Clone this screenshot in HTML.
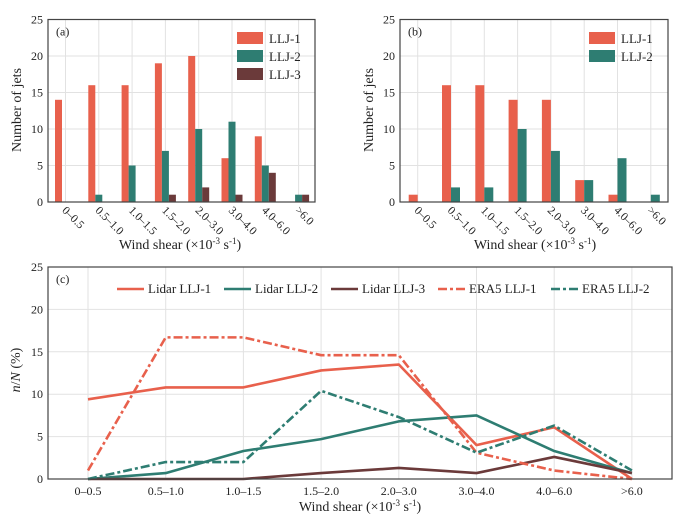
<!DOCTYPE html>
<html><head><meta charset="utf-8">
<style>
html,body{margin:0;padding:0;background:#fff;}
svg{display:block;font-family:"Liberation Serif",serif;}
</style></head>
<body>
<svg id="fig" width="687" height="523" viewBox="0 0 687 523" xmlns="http://www.w3.org/2000/svg"></svg>
<script>
const categories = ["0\u20130.5","0.5\u20131.0","1.0\u20131.5","1.5\u20132.0","2.0\u20133.0","3.0\u20134.0","4.0\u20136.0",">6.0"];
const yTicks = [0,5,10,15,20,25];
// panel a
const aLLJ1 = [14,16,16,19,20,6,9,0];
const aLLJ2 = [0,1,5,7,10,11,5,1];
const aLLJ3 = [0,0,0,1,2,1,4,1];
// panel b
const bLLJ1 = [1,16,16,14,14,3,1,0];
const bLLJ2 = [0,2,2,10,7,3,6,1];
// panel c
const cLidar1 = [9.4,10.8,10.8,12.8,13.5,4.0,6.1,0];
const cLidar2 = [0,0.7,3.3,4.7,6.8,7.5,3.3,0.7];
const cLidar3 = [0,0,0,0.7,1.3,0.7,2.6,0.7];
const cEra1 = [1.0,16.7,16.7,14.6,14.6,3.1,1.0,0];
const cEra2 = [0,2.0,2.0,10.4,7.3,3.1,6.3,1.0];

const RED="#e8604c", TEAL="#2e7d72", BROWN="#6b3a3a";
const NS="http://www.w3.org/2000/svg";
const svg=document.getElementById('fig');
function el(tag,attrs,parent,text){const e=document.createElementNS(NS,tag);for(const k in attrs)e.setAttribute(k,attrs[k]);if(text!==undefined)e.textContent=text;(parent||svg).appendChild(e);return e;}

function panel(name,x0,x1,yTop,yBot,cx,label){
  const g=el('g',{});
  
  
  const y=v=>yBot-(v/25)*(yBot-yTop);
  // grid
  yTicks.forEach(t=>{
    if(t>0&&t<25){const l=el('line',{x1:x0,x2:x1,y1:y(t),y2:y(t),stroke:'#e2e2e2','stroke-width':1},g);
      }
    const tx=el('text',{x:x0-5,y:y(t)+4,'text-anchor':'end','font-size':12,fill:'#222'},g,String(t));
    
  });
  categories.forEach((c,i)=>{
    const l=el('line',{x1:cx(i),x2:cx(i),y1:yTop,y2:yBot,stroke:'#e2e2e2','stroke-width':1},g);
    
  });
  const lab=el('text',{x:x0+8,y:yTop+16,'font-size':12,fill:'#222'},g,label);
  
  return {g,y};
}
function frame(g,x0,x1,yTop,yBot){
  const r=el('rect',{x:x0,y:yTop,width:x1-x0,height:yBot-yTop,fill:'none',stroke:'#444','stroke-width':1.2},g);
  
}
function rotLabels(g,cx,yBot){
  categories.forEach((c,i)=>{
    const x=cx(i)-4, yy=yBot+9;
    const t=el('text',{x:x,y:yy,'font-size':11.5,fill:'#222',transform:`rotate(45 ${x} ${yy})`},g,c);
    
  });
}
function ylabel(g,x,y,txt){
  const t=el('text',{x:x,y:y,'font-size':14,'text-anchor':'middle',fill:'#222',transform:`rotate(-90 ${x} ${y})`},g,txt);
  
  return t;
}
function xlabel(g,x,y){
  const t=el('text',{x:x,y:y,'font-size':14,'text-anchor':'middle',fill:'#222'},g);
  
  el('tspan',{},t,'Wind shear (\u00d710');
  el('tspan',{'font-size':9,dy:-5},t,'-3');
  el('tspan',{dy:5},t,' s');
  el('tspan',{'font-size':9,dy:-5},t,'-1');
  el('tspan',{dy:5},t,')');
}
function legendBox(g,x,y,color,txt){
  const r=el('rect',{x:x,y:y,width:26,height:12,fill:color},g);
  
  const t=el('text',{x:x+32,y:y+11,'font-size':13,fill:'#222'},g,txt);
  
}

// ---- Panel a
(function(){
  const x0=48,x1=315,yTop=19.5,yBot=202;
  const cx=i=>65.5+33.3*i;
  const {g,y}=panel('panel-a',x0,x1,yTop,yBot,cx,'(a)');
  const bw=7;
  [[aLLJ1,RED,-1],[aLLJ2,TEAL,0],[aLLJ3,BROWN,1]].forEach(([arr,col,o])=>{
    arr.forEach((v,i)=>{ if(v<=0)return;
      const r=el('rect',{x:cx(i)+o*bw-bw/2,y:y(v),width:bw,height:yBot-y(v),fill:col},g);
      
    });
  });
  legendBox(g,237,32,RED,'LLJ-1');
  legendBox(g,237,50,TEAL,'LLJ-2');
  legendBox(g,237,68,BROWN,'LLJ-3');
  frame(g,x0,x1,yTop,yBot);
  rotLabels(g,cx,yBot);
  ylabel(g,21,110,'Number of jets');
  xlabel(g,180,249);
})();

// ---- Panel b
(function(){
  const x0=400,x1=668,yTop=19.5,yBot=202;
  const cx=i=>417.7+33.3*i;
  const {g,y}=panel('panel-b',x0,x1,yTop,yBot,cx,'(b)');
  const bw=9;
  [[bLLJ1,RED,-1],[bLLJ2,TEAL,0]].forEach(([arr,col,o])=>{
    arr.forEach((v,i)=>{ if(v<=0)return;
      const r=el('rect',{x:cx(i)+o*bw,y:y(v),width:bw,height:yBot-y(v),fill:col},g);
      
    });
  });
  legendBox(g,589,32,RED,'LLJ-1');
  legendBox(g,589,50,TEAL,'LLJ-2');
  frame(g,x0,x1,yTop,yBot);
  rotLabels(g,cx,yBot);
  ylabel(g,373,110,'Number of jets');
  xlabel(g,535,249);
})();

// ---- Panel c
(function(){
  const x0=48,x1=672,yTop=267,yBot=479;
  const cx=i=>88+77.7*i;
  const {g,y}=panel('panel-c',x0,x1,yTop,yBot,cx,'(c)');
  const series=[
    [cLidar1,RED,null,'line-lidar-llj1'],
    [cLidar2,TEAL,null,'line-lidar-llj2'],
    [cLidar3,BROWN,null,'line-lidar-llj3'],
    [cEra1,RED,'9 3 3 3','line-era5-llj1'],
    [cEra2,TEAL,'9 3 3 3','line-era5-llj2']];
  series.forEach(([arr,col,dash,nm])=>{
    const pts=arr.map((v,i)=>cx(i)+','+y(v)).join(' ');
    const a={points:pts,fill:'none',stroke:col,'stroke-width':2.6,'stroke-linejoin':'round'};
    if(dash)a['stroke-dasharray']=dash;
    const p=el('polyline',a,g);
    
  });
  const leg=[[117,RED,null,'Lidar LLJ-1'],[224,TEAL,null,'Lidar LLJ-2'],[331,BROWN,null,'Lidar LLJ-3'],[438,RED,'9 3 3 3','ERA5 LLJ-1'],[551,TEAL,'9 3 3 3','ERA5 LLJ-2']];
  leg.forEach(([x,col,dash,txt])=>{
    const a={x1:x,x2:x+27,y1:289,y2:289,stroke:col,'stroke-width':2.6};
    if(dash)a['stroke-dasharray']=dash;
    const l=el('line',a,g);
    
    const t=el('text',{x:x+31,y:293,'font-size':13,fill:'#222'},g,txt);
    
  });
  frame(g,x0,x1,yTop,yBot);
  categories.forEach((c,i)=>{
    const t=el('text',{x:cx(i),y:yBot+16,'font-size':12,'text-anchor':'middle',fill:'#222'},g,c);
    
  });
  const t=el('text',{x:20,y:370,'font-size':14,'text-anchor':'middle',fill:'#222',transform:'rotate(-90 20 370)'},g);
  
  el('tspan',{'font-style':'italic'},t,'n');
  el('tspan',{},t,'/');
  el('tspan',{'font-style':'italic'},t,'N');
  el('tspan',{},t,' (%)');
  xlabel(g,360,511);
})();
</script>
</body></html>
